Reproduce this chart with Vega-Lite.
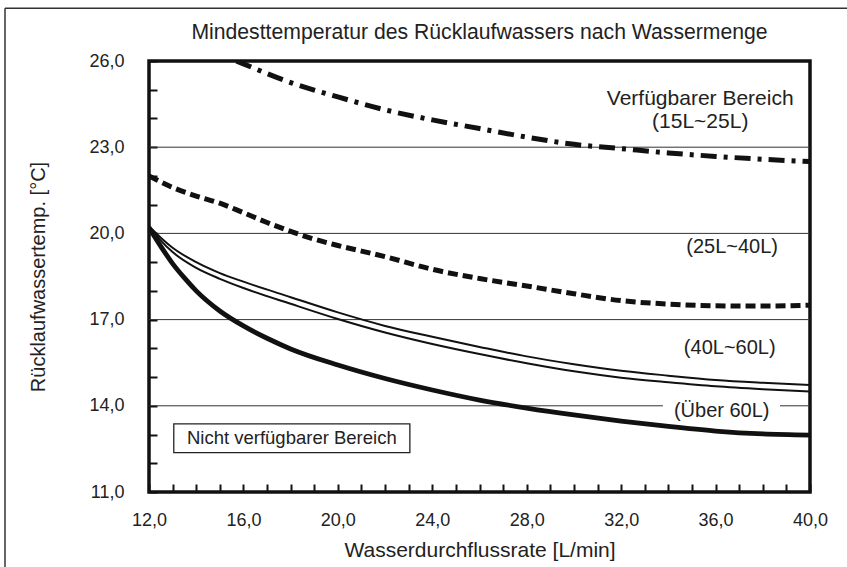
{
  "$schema": "https://vega.github.io/schema/vega-lite/v6.json",
  "width": 661,
  "height": 431,
  "autosize": "none",
  "padding": {"left": 149, "top": 61, "right": 37, "bottom": 75},
  "background": "white",
  "config": {
    "font": "Liberation Sans",
    "view": {"stroke": "#111", "strokeWidth": 3.5}
  },
  "encoding": {
    "x": {
      "field": "x",
      "type": "quantitative",
      "scale": {"domain": [12, 40], "nice": false, "zero": false},
      "axis": {
        "values": [12,13,14,15,16,17,18,19,20,21,22,23,24,25,26,27,28,29,30,31,32,33,34,35,36,37,38,39,40],
        "labelExpr": "datum.value % 4 == 0 ? replace(format(datum.value, '.1f'), '.', ',') : ''",
        "tickSize": -8,
        "tickWidth": 2,
        "tickColor": "#111",
        "domain": false,
        "grid": false,
        "labelFontSize": 18,
        "labelColor": "#222",
        "labelPadding": 27,
        "labelFlush": false,
        "labelOverlap": false,
        "title": "Wasserdurchflussrate [L/min]",
        "titleFontSize": 21,
        "titleFontWeight": "normal",
        "titleColor": "#222",
        "titlePadding": 10
      }
    },
    "y": {
      "field": "y",
      "type": "quantitative",
      "scale": {"domain": [11, 26], "nice": false, "zero": false},
      "axis": {
        "values": [11,12,13,14,15,16,17,18,19,20,21,22,23,24,25,26],
        "labelExpr": "(datum.value - 11) % 3 == 0 ? replace(format(datum.value, '.1f'), '.', ',') : ''",
        "tickSize": -8,
        "tickWidth": 2,
        "tickColor": "#111",
        "domain": false,
        "grid": false,
        "labelFontSize": 18,
        "labelColor": "#222",
        "labelPadding": 33,
        "labelFlush": false,
        "labelOverlap": false,
        "title": "Rücklaufwassertemp. [°C]",
        "titleFontSize": 20,
        "titleFontWeight": "normal",
        "titleColor": "#222",
        "titlePadding": 40
      }
    }
  },
  "layer": [
    {
      "data": {"values": [
        {"x": 5.9, "y": 27.84, "x2": 42, "y2": 27.84},
        {"x": 5.9, "y": 27.84, "x2": 5.9, "y2": 8}
      ]},
      "mark": {"type": "rule", "stroke": "#333", "strokeWidth": 1.5},
      "encoding": {"x2": {"field": "x2"}, "y2": {"field": "y2"}}
    },
    {
      "data": {"values": [
        {"x": 12, "x2": 40, "y": 14},
        {"x": 12, "x2": 40, "y": 17},
        {"x": 12, "x2": 40, "y": 20},
        {"x": 12, "x2": 40, "y": 23}
      ]},
      "mark": {"type": "rule", "stroke": "#333", "strokeWidth": 1},
      "encoding": {"x2": {"field": "x2"}}
    },
    {
      "data": {"values": [{"x": 33.77, "x2": 38.73, "y": 13.7, "y2": 14.3}]},
      "mark": {"type": "rect", "fill": "white"},
      "encoding": {"x2": {"field": "x2"}, "y2": {"field": "y2"}}
    },
    {
      "data": {"values": [
        {"x": 15.7, "y": 26.0}, {"x": 16, "y": 25.9}, {"x": 18, "y": 25.25}, {"x": 20, "y": 24.75},
        {"x": 22, "y": 24.3}, {"x": 24, "y": 23.95}, {"x": 26, "y": 23.65}, {"x": 28, "y": 23.35},
        {"x": 30, "y": 23.1}, {"x": 32, "y": 22.95}, {"x": 34, "y": 22.8}, {"x": 36, "y": 22.68},
        {"x": 38, "y": 22.58}, {"x": 40, "y": 22.5}
      ]},
      "mark": {"type": "line", "interpolate": "monotone", "stroke": "#111", "strokeWidth": 5, "strokeDash": [16, 7, 4, 7], "strokeCap": "butt", "clip": true},
      "encoding": {}
    },
    {
      "data": {"values": [
        {"x": 12, "y": 22.0}, {"x": 13, "y": 21.6}, {"x": 14, "y": 21.3}, {"x": 15, "y": 21.05},
        {"x": 16, "y": 20.72}, {"x": 17, "y": 20.38}, {"x": 18, "y": 20.07}, {"x": 19, "y": 19.8},
        {"x": 20, "y": 19.58}, {"x": 22, "y": 19.19}, {"x": 24, "y": 18.75}, {"x": 26, "y": 18.43},
        {"x": 28, "y": 18.17}, {"x": 30, "y": 17.9}, {"x": 32, "y": 17.66}, {"x": 34, "y": 17.54},
        {"x": 36, "y": 17.48}, {"x": 38, "y": 17.47}, {"x": 40, "y": 17.5}
      ]},
      "mark": {"type": "line", "interpolate": "monotone", "stroke": "#111", "strokeWidth": 5, "strokeDash": [10, 5], "strokeCap": "butt", "clip": true},
      "encoding": {}
    },
    {
      "data": {"values": [
        {"x": 12, "y": 20.25}, {"x": 12.5, "y": 19.85}, {"x": 13, "y": 19.5}, {"x": 14, "y": 19.0},
        {"x": 15, "y": 18.62}, {"x": 16, "y": 18.32}, {"x": 18, "y": 17.78}, {"x": 20, "y": 17.25},
        {"x": 22, "y": 16.78}, {"x": 24, "y": 16.4}, {"x": 26, "y": 16.05}, {"x": 28, "y": 15.72},
        {"x": 30, "y": 15.45}, {"x": 32, "y": 15.22}, {"x": 34, "y": 15.05}, {"x": 36, "y": 14.9},
        {"x": 38, "y": 14.8}, {"x": 40, "y": 14.72}
      ]},
      "mark": {"type": "line", "interpolate": "monotone", "stroke": "#111", "strokeWidth": 2, "clip": true},
      "encoding": {}
    },
    {
      "data": {"values": [
        {"x": 12, "y": 20.25}, {"x": 12.5, "y": 19.75}, {"x": 13, "y": 19.35}, {"x": 14, "y": 18.8},
        {"x": 15, "y": 18.42}, {"x": 16, "y": 18.1}, {"x": 18, "y": 17.55}, {"x": 20, "y": 17.02},
        {"x": 22, "y": 16.55}, {"x": 24, "y": 16.15}, {"x": 26, "y": 15.8}, {"x": 28, "y": 15.48},
        {"x": 30, "y": 15.2}, {"x": 32, "y": 14.98}, {"x": 34, "y": 14.82}, {"x": 36, "y": 14.68},
        {"x": 38, "y": 14.58}, {"x": 40, "y": 14.5}
      ]},
      "mark": {"type": "line", "interpolate": "monotone", "stroke": "#111", "strokeWidth": 2, "clip": true},
      "encoding": {}
    },
    {
      "data": {"values": [
        {"x": 12, "y": 20.2}, {"x": 12.5, "y": 19.55}, {"x": 13, "y": 18.95}, {"x": 13.5, "y": 18.45},
        {"x": 14, "y": 18.0}, {"x": 15, "y": 17.3}, {"x": 16, "y": 16.78}, {"x": 17, "y": 16.35},
        {"x": 18, "y": 15.98}, {"x": 20, "y": 15.42}, {"x": 22, "y": 14.95}, {"x": 24, "y": 14.55},
        {"x": 26, "y": 14.2}, {"x": 28, "y": 13.92}, {"x": 30, "y": 13.68}, {"x": 32, "y": 13.47},
        {"x": 34, "y": 13.28}, {"x": 36, "y": 13.12}, {"x": 38, "y": 13.02}, {"x": 40, "y": 12.98}
      ]},
      "mark": {"type": "line", "interpolate": "monotone", "stroke": "#111", "strokeWidth": 4.8, "clip": true},
      "encoding": {}
    },
    {
      "data": {"values": [{"x": 13.05, "x2": 23.05, "y": 13.37, "y2": 12.37}]},
      "mark": {"type": "rect", "fill": "white", "stroke": "#222", "strokeWidth": 1.3},
      "encoding": {"x2": {"field": "x2"}, "y2": {"field": "y2"}}
    },
    {
      "data": {"values": [
        {"x": 35.35, "y": 24.68, "label": "Verfügbarer Bereich", "size": 21},
        {"x": 35.35, "y": 23.88, "label": "(15L~25L)", "size": 21},
        {"x": 36.7, "y": 19.53, "label": "(25L~40L)", "size": 20},
        {"x": 36.6, "y": 16.0, "label": "(40L~60L)", "size": 20},
        {"x": 36.26, "y": 13.82, "label": "(Über 60L)", "size": 20},
        {"x": 18.05, "y": 12.87, "label": "Nicht verfügbarer Bereich", "size": 18.5},
        {"x": 26.0, "y": 26.975, "label": "Mindesttemperatur des Rücklaufwassers nach Wassermenge", "size": 21.2}
      ]},
      "mark": {"type": "text", "align": "center", "baseline": "middle", "color": "#222"},
      "encoding": {
        "text": {"field": "label"},
        "size": {"field": "size", "type": "quantitative", "scale": null}
      }
    }
  ]
}
